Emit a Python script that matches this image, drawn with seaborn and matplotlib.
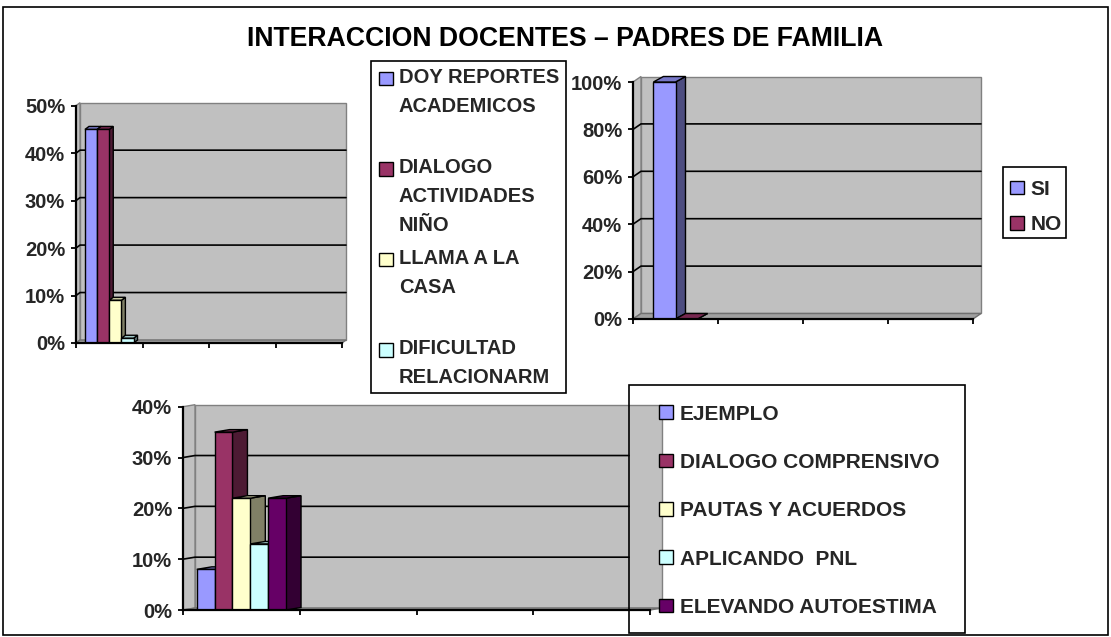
import numpy as np
import pandas as pd
import matplotlib
matplotlib.use("Agg")
import matplotlib.pyplot as plt
import seaborn as sns
from matplotlib.patches import Polygon, Rectangle, Patch
from matplotlib.lines import Line2D
from matplotlib.ticker import PercentFormatter, FixedLocator, NullFormatter
from matplotlib.legend_handler import HandlerBase
from matplotlib.colors import to_rgb

# ---------------- data ----------------
title = "INTERACCION DOCENTES – PADRES DE FAMILIA"

series1 = ["DOY REPORTES ACADEMICOS", "DIALOGO ACTIVIDADES NIÑO",
           "LLAMA A LA CASA", "DIFICULTAD RELACIONARME"]
values1 = [0.45, 0.45, 0.09, 0.01]
legend1 = ["DOY REPORTES\nACADEMICOS\n", "DIALOGO\nACTIVIDADES\nNIÑO",
           "LLAMA A LA\nCASA\n", "DIFICULTAD\nRELACIONARM\nE"]
yticks1 = [0.0, 0.1, 0.2, 0.3, 0.4, 0.5]

series2 = ["SI", "NO"]
values2 = [1.00, 0.00]
yticks2 = [0.0, 0.2, 0.4, 0.6, 0.8, 1.0]

series3 = ["EJEMPLO", "DIALOGO COMPRENSIVO", "PAUTAS Y ACUERDOS",
           "APLICANDO  PNL", "ELEVANDO AUTOESTIMA"]
values3 = [0.08, 0.35, 0.22, 0.13, 0.22]
yticks3 = [0.0, 0.1, 0.2, 0.3, 0.4]

colors = ["#9999FF", "#993366", "#FFFFCC", "#CCFFFF", "#660066"]

# ---------------- setup ----------------
W, H = 1111, 637
sns.set_style("white")
plt.rcParams['font.family'] = ['Liberation Sans', 'DejaVu Sans']
plt.rcParams['font.weight'] = 'bold'

fig = plt.figure(figsize=(W / 100, H / 100), dpi=100)
inv = fig.transFigure.inverted()


def fx(x):
    return x / W


def fy(y):
    return 1 - y / H


def shade(c, f):
    r, g, b = to_rgb(c)
    return (r * f, g * f, b * f)


def add_poly(ax, pts, **kw):
    p = Polygon(inv.transform(np.array(pts)), closed=True,
                transform=fig.transFigure, clip_on=False, **kw)
    ax.add_patch(p)


def add_line(ax, pts, **kw):
    a = inv.transform(np.array(pts))
    ln = Line2D(a[:, 0], a[:, 1], transform=fig.transFigure,
                clip_on=False, **kw)
    ax.add_line(ln)


def make_panel(left, right, top, bottom, series, values, yticks, width,
               wall_d, bar_d, grid_stop=None):
    ax = fig.add_axes([fx(left), fy(bottom), (right - left) / W,
                       (bottom - top) / H])
    df = pd.DataFrame({"grupo": ["G"] * len(series), "serie": series,
                       "valor": values})
    sns.barplot(data=df, x="grupo", y="valor", hue="serie",
                hue_order=series, palette=colors[:len(series)],
                saturation=1, width=width, edgecolor="black",
                linewidth=1.0, errorbar=None, legend=False, ax=ax)
    ymax = yticks[-1]
    ax.set_xlim(-0.5, 3.5)
    ax.set_ylim(0, ymax)
    ax.set_facecolor("none")
    ax.set_xlabel("")
    ax.set_ylabel("")
    ax.xaxis.set_major_locator(FixedLocator([-0.5, 0.5, 1.5, 2.5, 3.5]))
    ax.xaxis.set_major_formatter(NullFormatter())
    ax.yaxis.set_major_locator(FixedLocator(yticks))
    ax.yaxis.set_major_formatter(PercentFormatter(1.0, decimals=0))
    ax.tick_params(axis="both", direction="out", length=3.8, width=1.3,
                   color="black", labelsize=14.5, pad=4.0,
                   left=True, bottom=True)
    for s in ["top", "right"]:
        ax.spines[s].set_visible(False)
    for s in ["left", "bottom"]:
        ax.spines[s].set_color("black")
        ax.spines[s].set_linewidth(1.6)

    T = ax.transData
    X0, Y0 = T.transform((-0.5, 0))
    X1, _ = T.transform((3.5, 0))
    _, Yt = T.transform((-0.5, ymax))
    dx, dy = wall_d
    # back wall
    add_poly(ax, [(X0 + dx, Y0 + dy), (X1 + dx, Y0 + dy), (X1 + dx, Yt + dy),
                  (X0 + dx, Yt + dy)], facecolor="#C0C0C0",
             edgecolor="#808080", linewidth=1.0, zorder=0.3)
    # side wall
    add_poly(ax, [(X0, Y0), (X0 + dx, Y0 + dy), (X0 + dx, Yt + dy), (X0, Yt)],
             facecolor="#C0C0C0", edgecolor="#808080", linewidth=1.0,
             zorder=0.31)
    # floor
    add_poly(ax, [(X0, Y0), (X1, Y0), (X1 + dx, Y0 + dy), (X0 + dx, Y0 + dy)],
             facecolor="#A0A0A0", edgecolor="#707070", linewidth=1.0,
             zorder=0.32)
    # gridlines
    xend = X1 + dx if grid_stop is None else grid_stop
    for yv in yticks[1:-1]:
        Yg = T.transform((0, yv))[1]
        add_line(ax, [(X0, Yg), (X0 + dx, Yg + dy), (xend, Yg + dy)],
                 color="black", linewidth=1.2, zorder=0.6)
    # bar depth faces
    bx, by = bar_d
    for cont in ax.containers:
        for bar in cont:
            x = bar.get_x()
            w = bar.get_width()
            h = bar.get_height()
            fc = bar.get_facecolor()
            BR = np.array(T.transform((x + w, 0)))
            TR = np.array(T.transform((x + w, h)))
            TL = np.array(T.transform((x, h)))
            d = np.array([bx, by])
            add_poly(ax, [BR, TR, TR + d, BR + d], facecolor=shade(fc, 0.5),
                     edgecolor="black", linewidth=1.0, zorder=0.9)
            add_poly(ax, [TL, TR, TR + d, TL + d], facecolor=shade(fc, 0.78),
                     edgecolor="black", linewidth=1.0, zorder=0.91)
    return ax


ax1 = make_panel(76, 342, 105.7, 343, series1, values1, yticks1, 0.73,
                 (4, 3), (4, 3))
ax2 = make_panel(633, 973, 82, 319, series2, values2, yticks2, 0.52,
                 (8, 5.5), (10, 5.5))
ax3 = make_panel(183, 650, 406.7, 610, series3, values3, yticks3, 0.765,
                 (12, 2), (15, 2.5), grid_stop=629)

# ---------------- title & border ----------------
fig.text(fx(565.5), fy(38.5), title, ha="center", va="center",
         fontsize=19.2, fontweight="bold", color="black")
fig.add_artist(Rectangle((fx(3), fy(635)), 1105 / W, 628 / H, fill=False,
                         edgecolor="black", linewidth=1.2,
                         transform=fig.transFigure))


# ---------------- legends ----------------
class TopBox(HandlerBase):
    def __init__(self, shift=0.0):
        super().__init__()
        self.shift = shift

    def create_artists(self, legend, orig_handle, xdescent, ydescent,
                       width, height, fontsize, trans):
        r = Rectangle((-xdescent, -ydescent + self.shift), width, height,
                      facecolor=orig_handle.get_facecolor(),
                      edgecolor="black", linewidth=1.0, transform=trans)
        return [r]


def frame(x0, y0, x1, y1):
    r = Rectangle((fx(x0), fy(y1)), (x1 - x0) / W, (y1 - y0) / H,
                  fill=False, edgecolor="black", linewidth=1.2,
                  transform=fig.transFigure, zorder=6)
    fig.add_artist(r)
    return r


prop1 = dict(family="Liberation Sans", weight="bold", size=14.5)
prop = dict(family="Liberation Sans", weight="bold", size=15)

# legend 1
fr1 = frame(371, 61, 566, 393)
h1 = [Patch(facecolor=c) for c in colors[:4]]
leg1 = fig.legend(h1, legend1, loc="upper left",
                  bbox_to_anchor=(fx(379), fy(68)),
                  bbox_transform=fig.transFigure, frameon=False,
                  borderpad=0, borderaxespad=0, handlelength=0.69,
                  handleheight=0.65, handletextpad=0.3, labelspacing=0.69,
                  prop=prop1, handler_map={Patch: TopBox(20.2)})
for t in leg1.get_texts():
    t.set_linespacing(1.65)
    t.set_clip_path(fr1)
    t.set_clip_on(True)

# legend 2
frame(1003, 167, 1066, 238)
h2 = [Patch(facecolor=c) for c in colors[:2]]
fig.legend(h2, series2, loc="upper left",
           bbox_to_anchor=(fx(1010), fy(180)),
           bbox_transform=fig.transFigure, frameon=False,
           borderpad=0, borderaxespad=0, handlelength=0.67,
           handleheight=0.63, handletextpad=0.33, labelspacing=0.77,
           prop=prop, handler_map={Patch: TopBox(0)})

# legend 3
frame(629, 385, 965, 633)
h3 = [Patch(facecolor=c) for c in colors[:5]]
fig.legend(h3, series3, loc="upper left",
           bbox_to_anchor=(fx(659), fy(404.5)),
           bbox_transform=fig.transFigure, frameon=False,
           borderpad=0, borderaxespad=0, handlelength=0.67,
           handleheight=0.63, handletextpad=0.33, labelspacing=1.41,
           prop=prop, handler_map={Patch: TopBox(0)})

fig.savefig("out.png", dpi=100)
